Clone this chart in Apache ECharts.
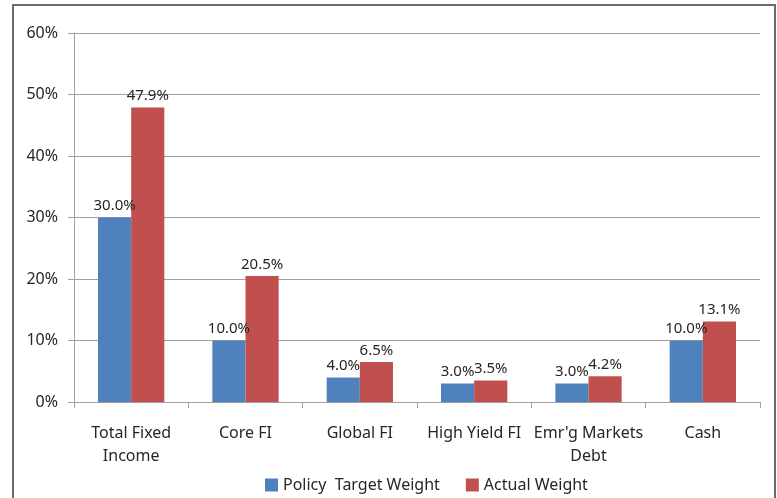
<!DOCTYPE html>
<html>
<head>
<meta charset="utf-8">
<script src="https://cdn.jsdelivr.net/npm/echarts@6/dist/echarts.min.js"></script>
<style>
  html, body { margin: 0; padding: 0; background: #fff; }
  #chart { width: 777px; height: 498px; }
</style>
</head>
<body>
<div id="chart"></div>
<script>
const categories = ['Total Fixed\nIncome', 'Core FI', 'Global FI', 'High Yield FI', "Emr'g Markets\nDebt", 'Cash'];
const policyTarget = [30.0, 10.0, 4.0, 3.0, 3.0, 10.0];
const actualWeight = [47.9, 20.5, 6.5, 3.5, 4.2, 13.1];
const seriesNames = ['Policy  Target Weight', 'Actual Weight'];

const chart = echarts.init(document.getElementById('chart'));
const font = 'Noto Sans';

const labelOpt = {
  show: true,
  position: 'top',
  distance: 4,
  color: '#262626',
  fontFamily: font,
  fontSize: 15,
  formatter: p => p.value.toFixed(1) + '%'
};

chart.setOption({
  animation: false,
  textStyle: { fontFamily: font },
  graphic: [{
    type: 'rect',
    shape: { x: 13, y: 5, width: 762, height: 500 },
    style: { fill: 'none', stroke: '#6b6b6b', lineWidth: 2 }
  }],
  grid: { left: 74, right: 17, top: 33, bottom: 96 },
  legend: {
    top: 472,
    left: 260,
    itemWidth: 13,
    itemHeight: 13,
    itemGap: 26,
    icon: 'rect',
    textStyle: { fontFamily: font, fontSize: 16, color: '#262626' },
    data: seriesNames
  },
  xAxis: {
    type: 'category',
    data: categories,
    axisLine: { lineStyle: { color: '#a0a0a0' } },
    axisTick: { show: true, length: 6, lineStyle: { color: '#a0a0a0' } },
    axisLabel: {
      interval: 0,
      margin: 20,
      fontSize: 16,
      lineHeight: 23,
      color: '#262626'
    }
  },
  yAxis: {
    type: 'value',
    min: 0,
    max: 60,
    interval: 10,
    axisLine: { show: true, lineStyle: { color: '#a0a0a0' } },
    axisTick: { show: true, length: 6, lineStyle: { color: '#a0a0a0' } },
    splitLine: { lineStyle: { color: '#a0a0a0' } },
    axisLabel: {
      margin: 16,
      fontSize: 16,
      color: '#262626',
      formatter: v => v + '%'
    }
  },
  series: [
    {
      name: seriesNames[0],
      type: 'bar',
      data: policyTarget,
      barGap: '0%',
      barCategoryGap: '42%',
      itemStyle: { color: '#4F81BD' },
      label: labelOpt
    },
    {
      name: seriesNames[1],
      type: 'bar',
      data: actualWeight,
      itemStyle: { color: '#C0504D' },
      label: labelOpt
    }
  ]
});
</script>
</body>
</html>
